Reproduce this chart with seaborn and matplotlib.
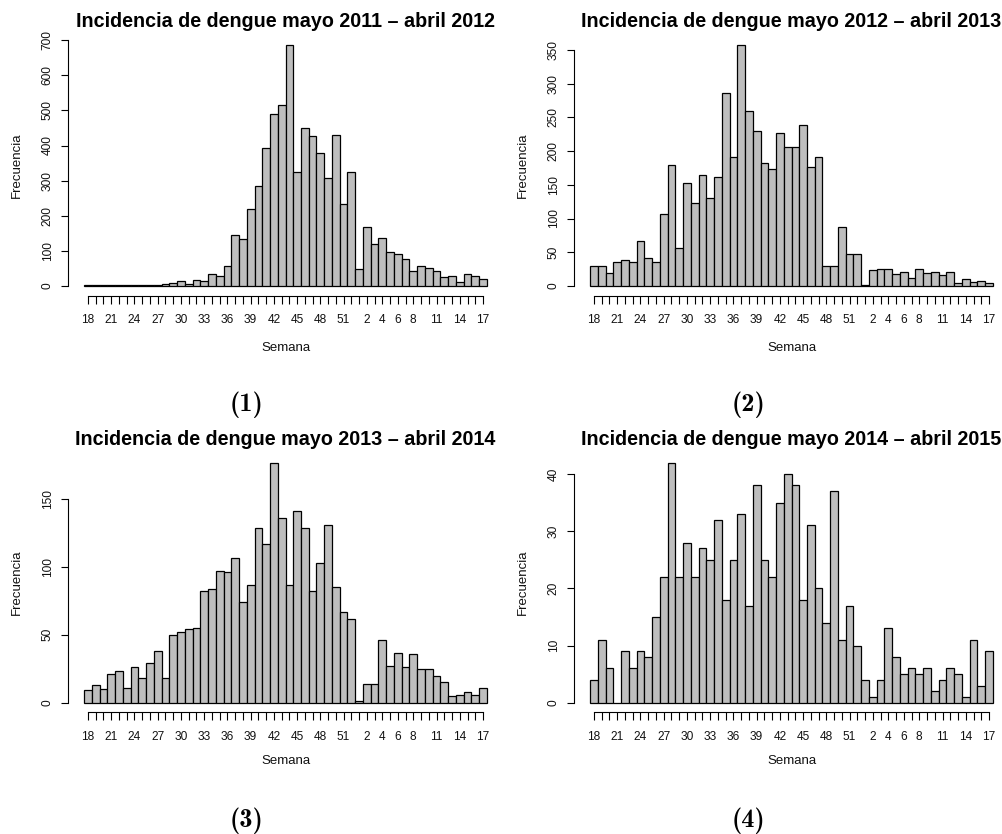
import os
import numpy as np
import pandas as pd
import matplotlib
matplotlib.use("Agg")
import matplotlib.pyplot as plt
from matplotlib.font_manager import FontProperties
import seaborn as sns

# ---------------- data ----------------
semanas = list(range(18, 53)) + list(range(1, 18))
etiquetas_visibles = [18, 21, 24, 27, 30, 33, 36, 39, 42, 45, 48, 51, 2, 4, 6, 8, 11, 14, 17]

frec_2011_2012 = [3, 4, 3, 4, 3, 4, 3, 4, 3, 4, 5, 8, 14, 6, 18, 13, 34, 28, 56, 144,
                  134, 219, 286, 393, 490, 515, 686, 326, 450, 427, 379, 307, 431, 233, 326,
                  49, 168, 119, 136, 96, 91, 76, 43, 56, 52, 42, 25, 29, 10, 33, 28, 19]
frec_2012_2013 = [29, 29, 19, 36, 38, 36, 67, 42, 36, 107, 180, 56, 153, 123, 165, 130, 161,
                  286, 191, 357, 260, 229, 182, 174, 227, 206, 206, 238, 177, 191, 30, 30, 87,
                  48, 48, 1, 23, 25, 25, 18, 20, 12, 25, 19, 20, 16, 20, 5, 11, 6, 8, 4]
frec_2013_2014 = [9, 13, 10, 21, 23, 11, 26, 18, 29, 38, 18, 50, 52, 54, 55, 82, 84, 97, 96,
                  107, 74, 87, 129, 117, 177, 136, 87, 141, 129, 82, 103, 131, 85, 67, 62,
                  1, 14, 14, 46, 27, 37, 26, 36, 25, 25, 20, 15, 5, 6, 8, 6, 11]
frec_2014_2015 = [4, 11, 6, 0, 9, 6, 9, 8, 15, 22, 42, 22, 28, 22, 27, 25, 32, 18, 25, 33,
                  17, 38, 25, 22, 35, 40, 38, 18, 31, 20, 14, 37, 11, 17, 10,
                  4, 1, 4, 13, 8, 5, 6, 5, 6, 2, 4, 6, 5, 1, 11, 3, 9]

series = [frec_2011_2012, frec_2012_2013, frec_2013_2014, frec_2014_2015]
titulos = ["Incidencia de dengue mayo 2011 \u2013 abril 2012",
           "Incidencia de dengue mayo 2012 \u2013 abril 2013",
           "Incidencia de dengue mayo 2013 \u2013 abril 2014",
           "Incidencia de dengue mayo 2014 \u2013 abril 2015"]
paneles = ["(1)", "(2)", "(3)", "(4)"]
pasos_y = [100, 50, 50, 10]

# ---------------- style ----------------
sns.set_style("ticks")
plt.rcParams["font.family"] = ["Liberation Sans", "DejaVu Sans"]
plt.rcParams["text.color"] = "black"
plt.rcParams["axes.labelcolor"] = "black"
plt.rcParams["mathtext.fontset"] = "cm"

cmb = os.path.join(matplotlib.get_data_path(), "fonts", "ttf", "cmb10.ttf")
if os.path.exists(cmb):
    fp_panel = FontProperties(fname=cmb, size=19)
else:
    fp_panel = FontProperties(family="DejaVu Serif", weight="bold", size=17)

W, H = 1002, 834
fig = plt.figure(figsize=(W / 100, H / 100), dpi=100)


def rect(x0, y0, x1, y1):
    return [x0 / W, 1 - y1 / H, (x1 - x0) / W, (y1 - y0) / H]


cols = [(68, 503), (574, 1009)]
rows = [(35.5, 295.6), (453, 712.3)]
xlab_y = [348, 760.5]
label_pos = [(246, 405), (748, 405), (246, 821), (748, 821)]

orden = [str(s) for s in semanas]
n = len(semanas)

for k in range(4):
    r, c = divmod(k, 2)
    x0, x1 = cols[c]
    y0, y1 = rows[r]
    ax = fig.add_axes(rect(x0, y0, x1, y1))
    vals = series[k]
    df = pd.DataFrame({"Semana": orden, "Frecuencia": vals})
    sns.barplot(data=df, x="Semana", y="Frecuencia", order=orden, color="#BEBEBE",
                saturation=1, width=1, edgecolor="black", linewidth=0.9, ax=ax)

    pad = 0.04 * n
    ax.set_xlim(-0.5 - pad, n - 0.5 + pad)
    ymax = max(vals)
    ax.set_ylim(-0.04 * ymax, 1.04 * ymax)

    yt = np.arange(0, 1.04 * ymax + 1e-9, pasos_y[k])
    ax.set_yticks(yt)
    ax.set_yticklabels([f"{int(v)}" for v in yt])
    ax.set_xticks(range(n))
    ax.set_xticklabels([str(s) if s in etiquetas_visibles else "" for s in semanas])

    sns.despine(ax=ax)
    ax.spines["left"].set_bounds(0, yt[-1])
    ax.spines["bottom"].set_bounds(0, n - 1)
    for sp in ("left", "bottom"):
        ax.spines[sp].set_color("black")
        ax.spines[sp].set_linewidth(0.8)

    ax.tick_params(axis="both", direction="out", length=5.4, width=0.8, color="black",
                   labelsize=8.6, labelcolor="#111111", bottom=True, left=True)
    ax.tick_params(axis="x", pad=8.2)
    ax.tick_params(axis="y", pad=4.8, labelrotation=90)
    for lab in ax.get_yticklabels():
        lab.set_va("center")

    hpx = y1 - y0
    wpx = x1 - x0
    ax.set_xlabel("Semana", fontsize=9.5, color="#111111")
    ax.xaxis.set_label_coords(0.5, -(xlab_y[r] - y1) / hpx)
    ax.xaxis.label.set_va("center")
    ax.set_ylabel("Frecuencia", fontsize=9.5, color="#111111")
    ax.yaxis.set_label_coords((16.5 - 68) / wpx, 0.5)
    ax.yaxis.label.set_va("center")

    ax.set_title(titulos[k], fontsize=14.2, fontweight="bold", pad=6, color="black")

    lx, ly = label_pos[k]
    fig.text(lx / W, 1 - ly / H, paneles[k], fontproperties=fp_panel,
             ha="center", va="center", color="black")

fig.savefig("out.png", dpi=100)
